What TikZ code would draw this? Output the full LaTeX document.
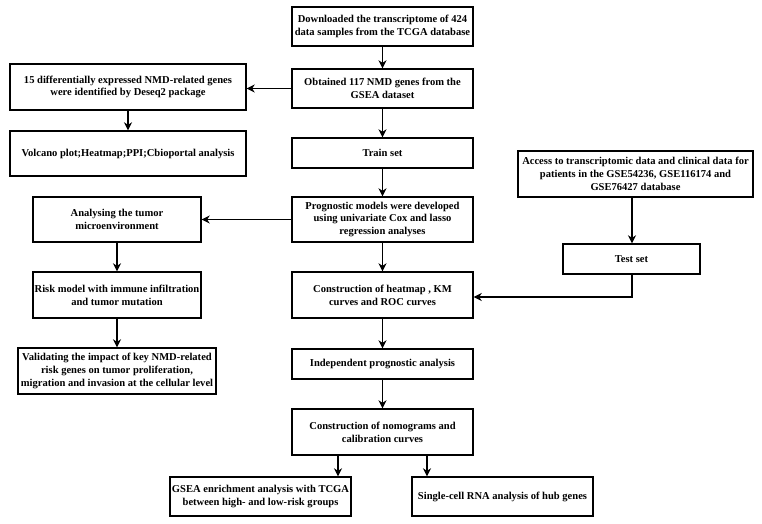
\documentclass[tikz,border=0pt]{standalone}
\usepackage{fontspec}
\setmainfont{Liberation Serif}[BoldFont={Liberation Serif Bold}]
\usetikzlibrary{arrows.meta,positioning}
\begin{document}
\begin{tikzpicture}[x=1pt,y=-1pt,
  box/.style={draw=black,line width=1.4pt,align=center,inner sep=1pt,
    font=\rmfamily\bfseries\fontsize{10.55}{12.8}\selectfont,text=black},
  arr/.style={draw=black,line width=1.2pt,-{Stealth[length=8pt,width=8pt,inset=2.5pt]}}]
\useasboundingbox[fill=white] (0,0) rectangle (762,524);
\newcommand{\bx}[6]{%
  \node[box,minimum width=#4-#2,minimum height=#5-#3] (#1) at ({(#2+#4)/2},{(#3+#5)/2}) {#6};}
\bx{b1}{292}{7}{473}{46}{Downloaded the transcriptome of 424\\data samples from the TCGA database}
\bx{b2}{292}{69}{473}{108}{Obtained 117 NMD genes from the\\GSEA dataset}
\bx{b3}{10}{64}{246}{110}{15 differentially expressed NMD-related genes\\were identified by Deseq2 package}
\bx{b4}{10}{131}{246}{176}{Volcano plot;Heatmap;PPI;Cbioportal analysis}
\bx{b5}{292}{138}{473}{168}{Train set}
\bx{b6}{292}{197}{473}{242}{Prognostic models were developed\\using univariate Cox and lasso\\regression analyses}
\bx{b7}{33}{197}{201}{242}{Analysing the tumor\\microenvironment}
\bx{b8}{518}{151}{753}{197}{Access to transcriptomic data and clinical data for\\patients in the GSE54236, GSE116174 and\\GSE76427 database}
\bx{b9}{563}{244}{700}{274}{Test set}
\bx{b10}{33}{272}{201}{318}{Risk model with immune infiltration\\and tumor mutation}
\bx{b11}{292}{272}{473}{318}{Construction of heatmap , KM\\curves and ROC curves}
\bx{b12}{18}{348}{216}{394}{Validating the impact of key NMD-related\\risk genes on tumor proliferation,\\migration and invasion at the cellular level}
\bx{b13}{292}{349}{473}{379}{Independent prognostic analysis}
\bx{b14}{292}{409}{473}{455}{Construction of nomograms and\\calibration curves}
\bx{b15}{170}{477}{351}{516}{GSEA enrichment analysis with TCGA\\between high- and low-risk groups}
\bx{b16}{412}{477}{593}{516}{Single-cell RNA analysis of hub genes}
\coordinate (c1) at (632,297);
\draw[arr] (b1) -- (b2);
\draw[arr] (b2.west) -- (b3.east |- b2.west);
\draw[arr] (b3) -- (b4);
\draw[arr] (b2) -- (b5);
\draw[arr] (b5) -- (b6);
\draw[arr] (b6.west) -- (b7.east |- b6.west);
\draw[arr] (b7) -- (b10);
\draw[arr] (b10) -- (b12);
\draw[arr] (b6) -- (b11);
\draw[arr] (b11) -- (b13);
\draw[arr] (b13) -- (b14);
\draw[arr] (b8.south -| c1) -- (b9.north -| c1);
\draw[arr] (b9.south -| c1) -- (c1) -- (b11.east |- c1);
\draw[arr] (b14.south -| 338,0) -- (b15.north -| 338,0);
\draw[arr] (b14.south -| 427,0) -- (b16.north -| 427,0);
\end{tikzpicture}
\end{document}
